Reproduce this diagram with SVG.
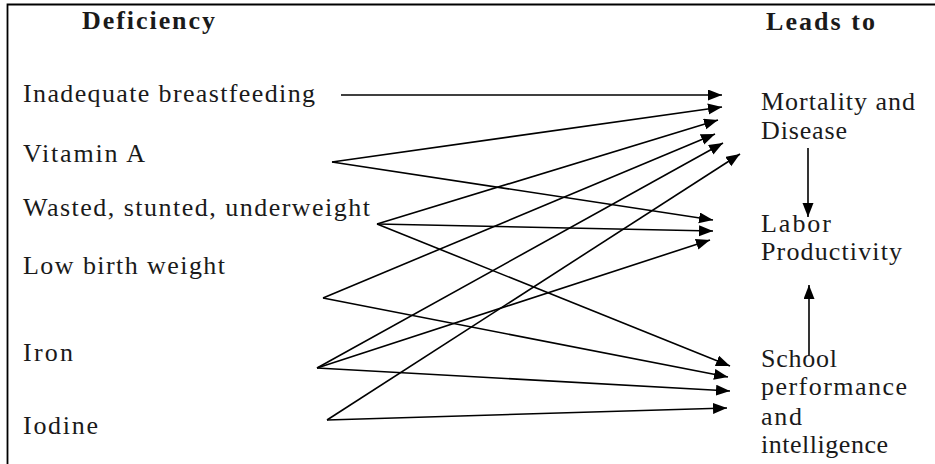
<svg xmlns="http://www.w3.org/2000/svg" width="935" height="464" viewBox="0 0 935 464">
  <style>
    .lbl { font-family: "Liberation Serif", "Times New Roman", serif; font-size: 26px; fill: #1a1a1a; }
    .hdr { font-family: "Liberation Serif", "Times New Roman", serif; font-size: 26px; font-weight: bold; fill: #1a1a1a; }
    .frame { stroke: #000; stroke-width: 1.8; fill: none; }
    .conn line { stroke: #000; stroke-width: 1.6; marker-end: url(#tip); }
  </style>
  <defs>
    <marker id="tip" markerUnits="userSpaceOnUse" markerWidth="15" markerHeight="12" refX="14" refY="5.5" orient="auto">
      <path d="M0,0 L14,5.5 L0,11 z" fill="#000"/>
    </marker>
  </defs>

  <rect width="935" height="464" fill="#fff"/>
  <!-- open frame: top and left edges -->
  <path class="frame" d="M7.5,464 V4.5 H935"/>

  <!-- column headings -->
  <g id="heading-deficiency"><text class="hdr" x="82" y="29" textLength="133" lengthAdjust="spacing">Deficiency</text></g>
  <g id="heading-leads-to"><text class="hdr" x="766" y="30" textLength="109" lengthAdjust="spacing">Leads to</text></g>

  <!-- deficiencies -->
  <g id="breastfeeding"><text class="lbl" x="23" y="102" textLength="292" lengthAdjust="spacing">Inadequate breastfeeding</text></g>
  <g id="vitamin-a"><text class="lbl" x="23" y="162" textLength="122" lengthAdjust="spacing">Vitamin A</text></g>
  <g id="wasted"><text class="lbl" x="23" y="216" textLength="347" lengthAdjust="spacing">Wasted, stunted, underweight</text></g>
  <g id="low-birth-weight"><text class="lbl" x="23" y="274" textLength="202" lengthAdjust="spacing">Low birth weight</text></g>
  <g id="iron"><text class="lbl" x="23" y="361" textLength="50" lengthAdjust="spacing">Iron</text></g>
  <g id="iodine"><text class="lbl" x="23" y="434" textLength="75" lengthAdjust="spacing">Iodine</text></g>

  <!-- outcomes -->
  <g id="mortality">
    <text class="lbl" x="761" y="110" textLength="154" lengthAdjust="spacing">Mortality and</text>
    <text class="lbl" x="761" y="139" textLength="86" lengthAdjust="spacing">Disease</text>
  </g>
  <g id="labor">
    <text class="lbl" x="761" y="232" textLength="70" lengthAdjust="spacing">Labor</text>
    <text class="lbl" x="761" y="260" textLength="141" lengthAdjust="spacing">Productivity</text>
  </g>
  <g id="school">
    <text class="lbl" x="761" y="367" textLength="76" lengthAdjust="spacing">School</text>
    <text class="lbl" x="761" y="395" textLength="146" lengthAdjust="spacing">performance</text>
    <text class="lbl" x="761" y="425" textLength="41" lengthAdjust="spacing">and</text>
    <text class="lbl" x="761" y="453" textLength="127" lengthAdjust="spacing">intelligence</text>
  </g>

  <!-- connectors -->
  <g id="connectors" class="conn">
    <!-- to mortality and disease -->
    <line x1="341" y1="95" x2="722" y2="95"/>
    <line x1="332" y1="162" x2="722" y2="107"/>
    <line x1="377" y1="224" x2="718" y2="120"/>
    <line x1="323" y1="298" x2="715" y2="134"/>
    <line x1="317" y1="368" x2="723" y2="143"/>
    <line x1="327" y1="420" x2="740" y2="154"/>
    <!-- to labor productivity -->
    <line x1="332" y1="162" x2="713" y2="220"/>
    <line x1="377" y1="224" x2="713" y2="231"/>
    <line x1="317" y1="368" x2="710" y2="240"/>
    <!-- to school performance -->
    <line x1="377" y1="224" x2="730" y2="366"/>
    <line x1="323" y1="298" x2="728" y2="377"/>
    <line x1="317" y1="368" x2="730" y2="391"/>
    <line x1="327" y1="420" x2="727" y2="408"/>
    <!-- between outcomes -->
    <line x1="808" y1="148" x2="808" y2="217"/>
    <line x1="809" y1="355" x2="809" y2="285"/>
  </g>
</svg>
